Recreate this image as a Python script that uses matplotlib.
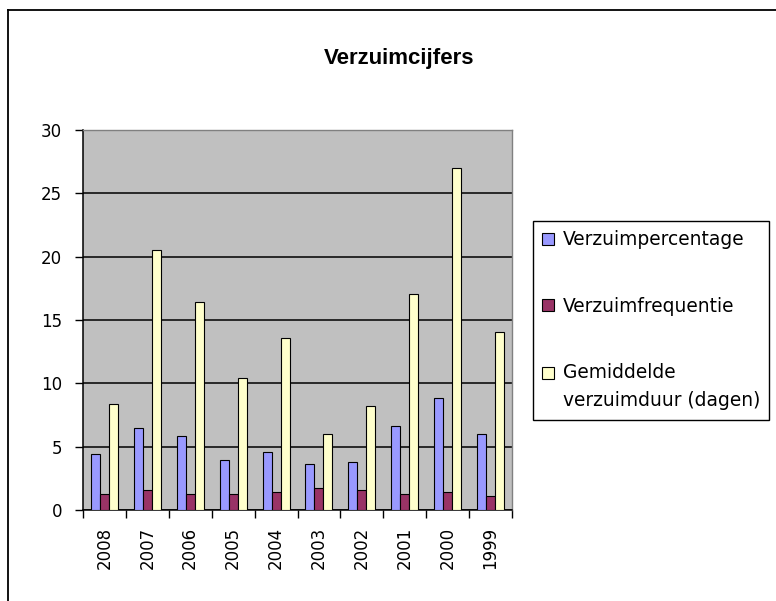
import matplotlib
matplotlib.use("Agg")
import matplotlib.pyplot as plt
import numpy as np
from matplotlib.legend_handler import HandlerPatch
from matplotlib.lines import Line2D

# ---------- data ----------
years = ["2008", "2007", "2006", "2005", "2004", "2003", "2002", "2001", "2000", "1999"]
verzuimpercentage = [4.4, 6.45, 5.85, 3.95, 4.6, 3.65, 3.8, 6.65, 8.85, 6.0]
verzuimfrequentie = [1.25, 1.6, 1.25, 1.25, 1.4, 1.7, 1.6, 1.3, 1.4, 1.1]
verzuimduur = [8.35, 20.5, 16.4, 10.4, 13.6, 6.0, 8.2, 17.05, 27.0, 14.05]
series_names = ["Verzuimpercentage", "Verzuimfrequentie", "Gemiddelde\nverzuimduur (dagen)"]
colors = ["#9999FF", "#993366", "#FFFFCC"]

plt.rcParams["font.family"] = ["DejaVu Sans"]

W, H = 776, 601
fig = plt.figure(figsize=(W / 100, H / 100), dpi=100)
fig.patch.set_facecolor("white")

## plot area in pixel coords -> figure fractions
left, right, top, bottom = 83, 512, 130, 510
ax = fig.add_axes([left / W, 1 - bottom / H, (right - left) / W, (bottom - top) / H])
ax.set_facecolor("#C0C0C0")

x = np.arange(len(years))
bw = 0.21
bars = []
for k, (vals, c, name) in enumerate(zip([verzuimpercentage, verzuimfrequentie, verzuimduur], colors, series_names)):
    b = ax.bar(x + (k - 1) * bw, vals, width=bw, color=c, edgecolor="black", linewidth=0.8,
               label=name, zorder=3)
    bars.append(b)

ax.set_xlim(-0.5, len(years) - 0.5)
ax.set_ylim(0, 30)
ax.set_yticks(np.arange(0, 31, 5))
ax.yaxis.grid(True, color="black", linewidth=1.1, zorder=1)
ax.set_axisbelow(True)

## x ticks at category boundaries, labels at centers
ax.set_xticks(np.arange(-0.5, len(years), 1.0))
ax.set_xticklabels([])
ax.set_xticks(x, minor=True)
ax.set_xticklabels(years, minor=True, rotation=90, fontsize=12)
ax.tick_params(axis="x", which="major", length=6, width=1, direction="out", color="black")
ax.tick_params(axis="x", which="minor", length=0, pad=12)
ax.tick_params(axis="y", length=6, width=1, direction="out", labelsize=12, pad=9)

for s in ["left", "bottom"]:
    ax.spines[s].set_color("black")
    ax.spines[s].set_linewidth(1.1)
for s in ["top", "right"]:
    ax.spines[s].set_color("#808080")
    ax.spines[s].set_linewidth(1.0)


## legend handle aligned with the first line of a label
class FirstLineHandler(HandlerPatch):
    def __init__(self, shift=0, **kw):
        super().__init__(**kw)
        self.shift = shift

    def create_artists(self, legend, orig_handle, xdescent, ydescent, width, height, fontsize, trans):
        return super().create_artists(legend, orig_handle, xdescent, ydescent - self.shift,
                                      width, height, fontsize, trans)


handles = [b.patches[0] for b in bars]
leg = fig.legend(handles=handles, labels=series_names, loc="upper left",
                 bbox_to_anchor=(533 / W, 1 - 221 / H), borderaxespad=0,
                 fontsize=13.4, handlelength=0.64, handleheight=0.64, handletextpad=0.45,
                 labelspacing=2.55, borderpad=0.5, fancybox=False, shadow=False,
                 framealpha=1, edgecolor="black",
                 handler_map={handles[0]: FirstLineHandler(0), handles[1]: FirstLineHandler(0),
                              handles[2]: FirstLineHandler(10.5)})
leg.get_frame().set_linewidth(1.0)
leg.get_texts()[2].set_linespacing(1.6)

## title
fig.text(399 / W, 1 - 64 / H, "Verzuimcijfers", ha="center", va="baseline",
         fontsize=16, fontweight="bold", family="Liberation Sans")

## outer chart frame (cut off at right and bottom)
fig.add_artist(Line2D([8 / W, 8 / W], [0, 1 - 10 / H], transform=fig.transFigure, color="black", linewidth=1.3))
fig.add_artist(Line2D([8 / W, 1], [1 - 10 / H, 1 - 10 / H], transform=fig.transFigure, color="black", linewidth=1.3))

fig.savefig("out.png", dpi=100)
